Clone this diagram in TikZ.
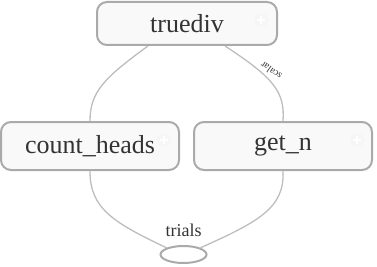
\documentclass[tikz,border=0pt]{standalone}
\usepackage{fontspec}
\setmainfont{Liberation Serif}
\usetikzlibrary{shapes.geometric}

\definecolor{edgegray}{HTML}{BDBDBD}
\definecolor{boxgray}{HTML}{AAAAAA}
\definecolor{boxfill}{HTML}{F9F9F9}
\definecolor{textgray}{HTML}{333333}

\begin{document}
\begin{tikzpicture}[x=1pt, y=-1pt,
    op/.style={draw=boxgray, line width=2pt, fill=boxfill, rounded corners=10pt,
      inner sep=0pt, text=textgray, font=\fontsize{26}{28}\selectfont},
    const/.style={ellipse, draw=boxgray, line width=2pt, fill=white,
      minimum width=46pt, minimum height=17pt, inner sep=0pt},
    flow/.style={draw=edgegray, line width=1.3pt},
    expand/.style={circle, fill=gray!7, minimum size=14pt, inner sep=0pt}]

  \useasboundingbox (0,0) rectangle (377,267);

  \node [op, minimum width=180pt, minimum height=43pt] (truediv) at (187,23.5) {};
  \node [op, minimum width=178pt, minimum height=48pt] (count) at (90,146) {};
  \node [op, minimum width=178pt, minimum height=48pt] (getn) at (283,146) {};

  % faint expand buttons
  \foreach \n/\px/\py in {a/261/20, b/164/140, c/357/140} {
    \node [expand] (plus\n) at (\px,\py) {};
    \draw [white, line width=1.6pt] (plus\n.center) ++(-4,0) -- ++(8,0)
      (plus\n.center) ++(0,-4) -- ++(0,8);
  }

  % op names on top of the buttons
  \node [op, draw=none, fill=none] (tdname) at (truediv) {truediv};
  \node [op, draw=none, fill=none] (chname) at (count) {count\_heads};
  \node [op, draw=none, fill=none] (gnname) at (getn) {get\_n};

  \node [const] (trials) at (183.5,254.5) {};
  \node [text=textgray, font=\fontsize{18}{20}\selectfont] (tlabel) at (183.5,230) {trials};

  % data edges
  \coordinate (tl) at (148,46);
  \coordinate (tr) at (225,46);
  \path [flow] (tl) .. controls (104,78) and (90,92) .. (count.north);
  \path [flow] (tr) .. controls (274,78) and (285,92) .. (getn.north);
  \path [flow] (count.south) .. controls (90,208) and (112,222) .. (trials.north west);
  \path [flow] (getn.south) .. controls (285,208) and (258,222) .. (trials.north east);

  \node [text=textgray, font=\fontsize{10}{11}\selectfont, rotate=145, inner sep=0pt] (scalar) at (271,71) {scalar};

\end{tikzpicture}
\end{document}
